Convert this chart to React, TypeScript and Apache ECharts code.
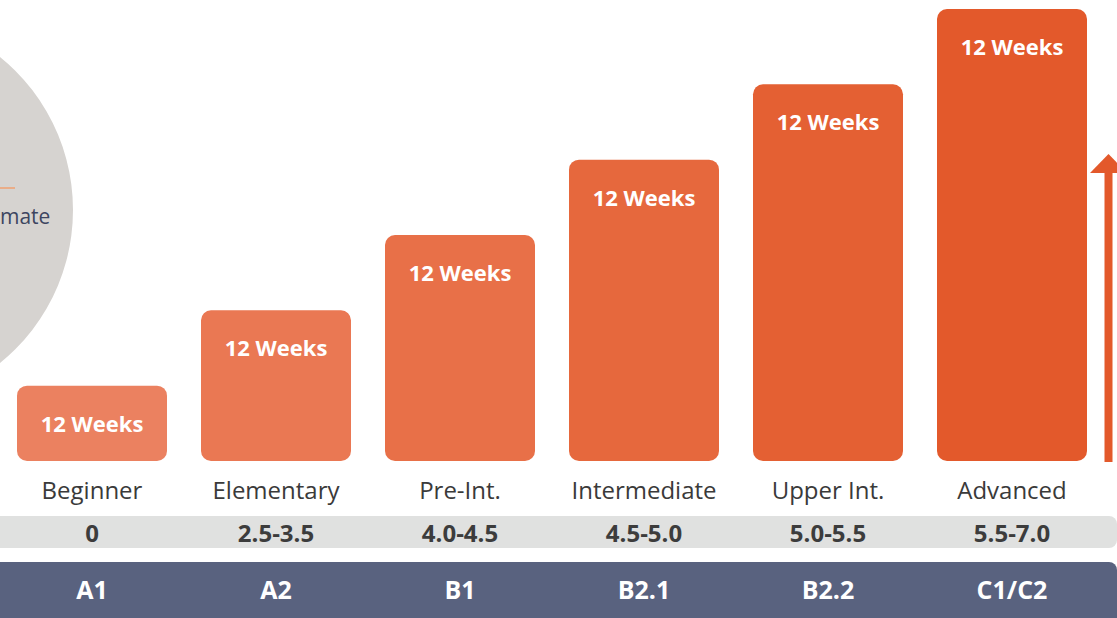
import React, { useEffect, useRef } from "react";
import * as echarts from "echarts";

const levels = ["Beginner", "Elementary", "Pre-Int.", "Intermediate", "Upper Int.", "Advanced"];
const ieltsRanges = ["0", "2.5-3.5", "4.0-4.5", "4.5-5.0", "5.0-5.5", "5.5-7.0"];
const cefrLevels = ["A1", "A2", "B1", "B2.1", "B2.2", "C1/C2"];
const barHeights = [1, 2, 3, 4, 5, 6];
const durationLabels = ["12 Weeks", "12 Weeks", "12 Weeks", "12 Weeks", "12 Weeks", "12 Weeks"];
const barColors = ["#eb8160", "#ea7853", "#e87048", "#e6683d", "#e46033", "#e3592b"];

const FONT = "'Open Sans', 'Noto Sans', sans-serif";

export default function App() {
  const ref = useRef<HTMLDivElement>(null);
  useEffect(() => {
    document.body.style.margin = "0";
    if (!ref.current) return;
    const chart = echarts.init(ref.current, null, { renderer: "svg" });
    const baseAxis = {
      type: "category" as const,
      data: levels,
      axisLine: { show: false },
      axisTick: { show: false },
      splitLine: { show: false },
    };
    chart.setOption({
      animation: false,
      backgroundColor: "#ffffff",
      grid: { left: 0, right: 13, top: 9, bottom: 157, containLabel: false },
      xAxis: [
        {
          ...baseAxis,
          position: "bottom",
          axisLabel: { interval: 0, hideOverlap: false, margin: 16, fontSize: 24, color: "#3a3a3a", fontFamily: FONT },
        },
        {
          ...baseAxis,
          data: ieltsRanges,
          position: "bottom",
          offset: 52,
          axisLabel: { interval: 0, hideOverlap: false, margin: 7, fontSize: 24, fontWeight: "bold", color: "#3c3c3c", fontFamily: FONT },
        },
        {
          ...baseAxis,
          data: cefrLevels,
          position: "bottom",
          offset: 109,
          axisLabel: { interval: 0, hideOverlap: false, margin: 6, fontSize: 25, fontWeight: "bold", color: "#ffffff", fontFamily: FONT },
        },
      ],
      yAxis: { type: "value", min: 0, max: 6, show: false, splitLine: { show: false } },
      graphic: [
        { type: "circle", z: -10, shape: { cx: -124, cy: 210, r: 197 }, style: { fill: "#d6d3d0" } },
        { type: "line", z: -5, shape: { x1: 0, y1: 188, x2: 15, y2: 188 }, style: { stroke: "#f0a070", lineWidth: 1.5 } },
        {
          type: "text", z: -5, x: 0, y: 216,
          style: { text: "mate", fill: "#3d4560", font: `21px ${FONT}`, textAlign: "left", textVerticalAlign: "middle" },
        },
        { type: "rect", z: -10, shape: { x: -10, y: 516, width: 1127, height: 32, r: [0, 8, 8, 0] }, style: { fill: "#e0e1e0" } },
        { type: "rect", z: -10, shape: { x: -10, y: 562, width: 1127, height: 60, r: [0, 8, 0, 0] }, style: { fill: "#59627f" } },
        { type: "line", shape: { x1: 1108.5, y1: 170, x2: 1108.5, y2: 462 }, style: { stroke: "#e3592b", lineWidth: 8 } },
        { type: "polygon", shape: { points: [[1090, 173], [1108.5, 154], [1127, 173]] }, style: { fill: "#e3592b" } },
      ],
      series: [
        {
          type: "bar",
          barWidth: 150,
          data: barHeights.map((v, i) => ({
            value: v,
            itemStyle: { color: barColors[i], borderRadius: 10 },
            label: { formatter: durationLabels[i] },
          })),
          label: {
            show: true,
            position: "insideTop",
            distance: 26,
            fontSize: 22,
            fontWeight: "bold",
            color: "#ffffff",
            fontFamily: FONT,
          },
        },
      ],
    });
    return () => chart.dispose();
  }, []);
  return <div ref={ref} style={{ width: 1117, height: 618 }} />;
}
